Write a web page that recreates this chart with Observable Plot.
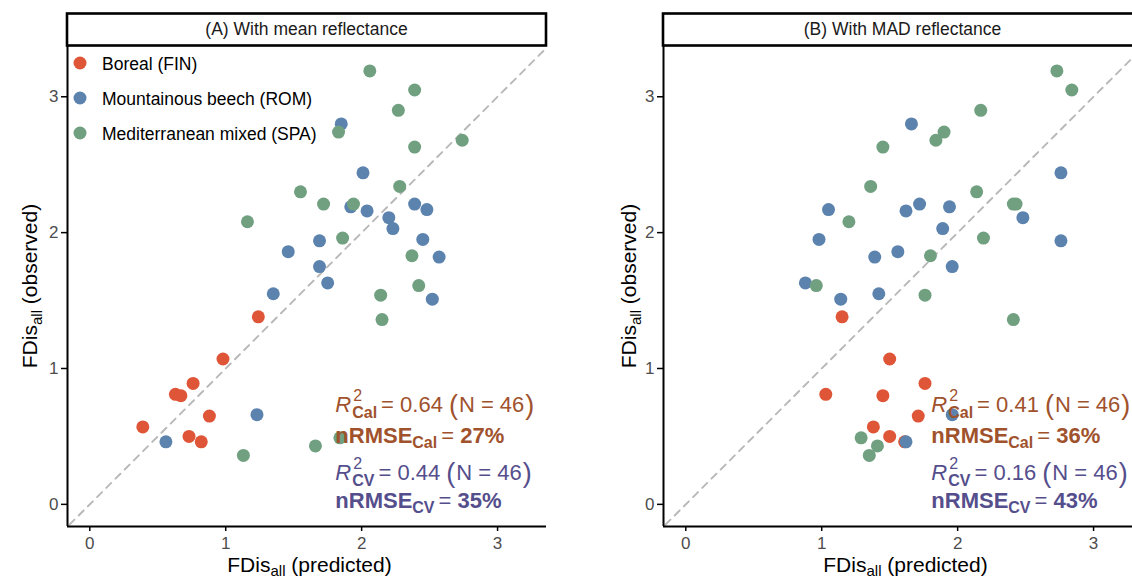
<!DOCTYPE html>
<html><head><meta charset="utf-8">
<script src="https://cdn.jsdelivr.net/npm/d3@7"></script>
<script src="https://cdn.jsdelivr.net/npm/@observablehq/plot@0.6"></script>
<style>
html,body{margin:0;padding:0;background:#fff;overflow:hidden}
#wrap{position:relative;width:1132px;height:581px;overflow:hidden;font-family:"Liberation Sans",Arial,Helvetica,sans-serif}
.panel{position:absolute;top:0;width:566px;height:581px}
.panel svg{max-width:none !important;display:block}
</style></head><body><div id="wrap"></div>
<script>
// ---- data ----
const groups = ["Boreal (FIN)", "Mountainous beech (ROM)", "Mediterranean mixed (SPA)"];
const groupColors = ["#DF5537", "#5B83AE", "#71A081"];
const group = [0,0,0,0,0,0,0,0,0,
  1,1,1,1,1,1,1,1,1,1,1,1,1,1,1,1,1,1,
  2,2,2,2,2,2,2,2,2,2,2,2,2,2,2,2,2,2,2];
const observed = [1.38,1.07,0.89,0.81,0.80,0.65,0.57,0.50,0.46,
  2.80,2.44,2.21,2.19,2.17,2.16,2.11,2.03,1.95,1.94,1.86,1.82,1.75,1.63,1.55,1.51,0.66,0.46,
  3.19,3.05,2.90,2.74,2.68,2.63,2.34,2.30,2.21,2.21,2.08,1.96,1.83,1.61,1.54,1.36,0.49,0.43,0.36];
const predMean = [1.24,0.98,0.76,0.63,0.67,0.88,0.39,0.73,0.82,
  1.85,2.01,2.39,1.92,2.48,2.04,2.20,2.23,2.45,1.69,1.46,2.57,1.69,1.75,1.35,2.52,1.23,0.56,
  2.06,2.39,2.27,1.83,2.74,2.39,2.28,1.55,1.72,1.94,1.16,1.86,2.37,2.42,2.14,2.15,1.84,1.66,1.13];
const predMAD = [1.15,1.50,1.76,1.03,1.45,1.71,1.38,1.50,1.61,
  1.66,2.76,1.72,1.94,1.05,1.62,2.48,1.89,0.98,2.76,1.56,1.39,1.96,0.88,1.42,1.14,1.96,1.62,
  2.73,2.84,2.17,1.90,1.84,1.45,1.36,2.14,2.41,2.43,1.20,2.19,1.80,0.96,1.76,2.41,1.29,1.41,1.35];
const panelTitles = ["(A) With mean reflectance", "(B) With MAD reflectance"];
const r2Cal = ["0.64", "0.41"];
const nrmseCal = ["27%", "36%"];
const r2CV = ["0.44", "0.16"];
const nrmseCV = ["35%", "43%"];
const nObs = "46";
const tickValues = [0, 1, 2, 3];
const xDomain = [-0.164, 3.36];
const yDomain = [-0.163, 3.37];

// ---- layout ----
const FONT = '"Liberation Sans", Arial, Helvetica, sans-serif';
const panelLeft = [0, 596];
const yLabelX = [37, 40];
const calColor = "#A0522D";
const cvColor = "#554E8C";
const annX = 1.81;
const annY = [0.674, 0.445, 0.173, -0.033];

const wrap = document.getElementById("wrap");

function run(g, x, y, str, o = {}) {
  const t = g.append("text").attr("x", x).attr("y", y)
    .attr("text-anchor", "start")
    .attr("font-size", o.size || 22)
    .attr("font-weight", o.weight || "normal")
    .attr("font-style", o.style || "normal")
    .attr("fill", o.fill || "black")
    .text(str);
  return t.node().getComputedTextLength();
}

[predMean, predMAD].forEach((pred, i) => {
  const data = observed.map((o, k) => ({x: pred[k], y: o, g: groups[group[k]]}));
  const chart = Plot.plot({
    width: 566, height: 581,
    marginLeft: 67, marginRight: 20, marginTop: 46, marginBottom: 55,
    style: {fontFamily: FONT, background: "transparent", overflow: "visible"},
    x: {domain: xDomain},
    y: {domain: yDomain},
    color: {domain: groups, range: groupColors},
    marks: [
      Plot.line([xDomain[0] - 1, xDomain[1] + 1], {x: d => d, y: d => d, stroke: "#B8B8B8", strokeWidth: 1.9, strokeDasharray: "7,6", clip: true}),
      Plot.dot(data, {x: "x", y: "y", fill: "g", r: 6.5}),
      Plot.ruleY([yDomain[0]], {stroke: "black", strokeWidth: 2}),
      Plot.ruleX([xDomain[0]], {stroke: "black", strokeWidth: 2}),
      Plot.axisX({ticks: tickValues, tickFormat: d3.format("d"), tickSize: 5, tickPadding: 5, fontSize: 17, label: null, strokeWidth: 1.5}),
      Plot.axisY({ticks: tickValues, tickFormat: d3.format("d"), tickSize: 6, tickPadding: 3, fontSize: 17, label: null, strokeWidth: 1.5})
    ]
  });
  const div = document.createElement("div");
  div.className = "panel";
  div.style.left = panelLeft[i] + "px";
  div.appendChild(chart);
  wrap.appendChild(div);

  const svg = d3.select(chart);
  svg.selectAll('g[aria-label="x-axis tick label"], g[aria-label="y-axis tick label"]').attr("fill", "#4D4D4D");
  svg.selectAll('g[aria-label="x-axis tick"], g[aria-label="y-axis tick"]').attr("stroke", "black");

  const sx = chart.scale("x"), sy = chart.scale("y");
  const left = 67, right = 566 - 20;
  const g = svg.append("g").attr("font-family", FONT).attr("text-anchor", "start");

  // strip
  g.append("rect").attr("x", left).attr("y", 13.5).attr("width", right - left).attr("height", 32)
    .attr("fill", "white").attr("stroke", "black").attr("stroke-width", 2.6);
  g.append("text").attr("x", (left + right) / 2).attr("y", 35).attr("text-anchor", "middle")
    .attr("font-size", 17.5).attr("fill", "#1A1A1A").text(panelTitles[i]);

  // x label
  const xl = g.append("text").attr("x", (left + right) / 2 + 3).attr("y", 572).attr("text-anchor", "middle")
    .attr("font-size", 21).attr("fill", "black");
  xl.append("tspan").text("FDis");
  xl.append("tspan").attr("font-size", 15).attr("dy", 4).text("all");
  xl.append("tspan").attr("dy", -4).text(" (predicted)");

  // y label
  const yl = g.append("text").attr("transform", `translate(${yLabelX[i]},286) rotate(-90)`).attr("text-anchor", "middle")
    .attr("font-size", 21).attr("fill", "black");
  yl.append("tspan").text("FDis");
  yl.append("tspan").attr("font-size", 15).attr("dy", 5).text("all");
  yl.append("tspan").attr("dy", -5).text(" (observed)");

  // legend (panel A only)
  if (i === 0) {
    groups.forEach((name, k) => {
      const cy = 63 + k * 35;
      g.append("circle").attr("cx", 80).attr("cy", cy).attr("r", 6.5).attr("fill", groupColors[k]);
      g.append("text").attr("x", 102).attr("y", cy + 6.5).attr("text-anchor", "start").attr("font-size", 17.5).attr("fill", "black").text(name);
    });
  }

  // annotations
  const x0 = sx.apply(annX);
  const lines = [
    {kind: "r2", sub: "Cal", val: r2Cal[i], col: calColor},
    {kind: "nrmse", sub: "Cal", val: nrmseCal[i], col: calColor},
    {kind: "r2", sub: "CV", val: r2CV[i], col: cvColor},
    {kind: "nrmse", sub: "CV", val: nrmseCV[i], col: cvColor}
  ];
  lines.forEach((ln, k) => {
    const b = sy.apply(annY[k]);
    let x = x0;
    if (ln.kind === "r2") {
      x += run(g, x, b, "R", {style: "italic", fill: ln.col}) + 1;
      const w2 = run(g, x + 1, b - 11, "2", {size: 16, fill: ln.col});
      const ws = run(g, x, b + 6, ln.sub, {size: 16, weight: "bold", fill: ln.col});
      x += Math.max(w2, ws) + 4;
      x += run(g, x, b, "= " + ln.val, {fill: ln.col}) + 6;
      x += run(g, x, b + 2, "(", {size: 27, fill: ln.col}) + 1;
      x += run(g, x, b, "N = " + nObs, {fill: ln.col}) + 1;
      run(g, x, b + 2, ")", {size: 27, fill: ln.col});
    } else {
      x += run(g, x, b, "nRMSE", {weight: "bold", fill: ln.col});
      x += run(g, x, b + 5, ln.sub, {size: 16, weight: "bold", fill: ln.col}) + 4;
      x += run(g, x, b, "= ", {fill: ln.col});
      run(g, x, b, ln.val, {weight: "bold", fill: ln.col});
    }
  });
});
</script></body></html>
